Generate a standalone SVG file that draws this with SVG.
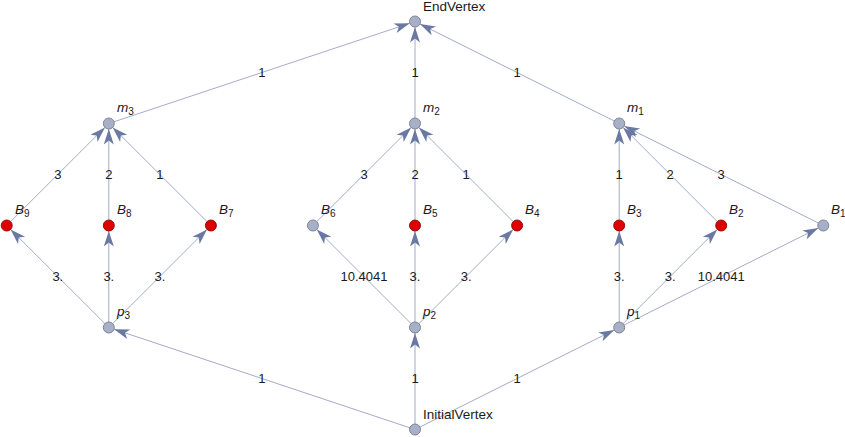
<svg xmlns="http://www.w3.org/2000/svg" width="845" height="437" viewBox="0 0 845 437">
  <style>
    .edge { stroke: #a3abc8; stroke-width: 1; fill: none; marker-end: url(#arrow); }
    .elabel { font-family: "Liberation Sans", Arial, sans-serif; font-size: 13px; fill: #1a1a1a; text-anchor: middle; }
    .vlabel { font-family: "Liberation Sans", Arial, sans-serif; font-size: 13.5px; fill: #1a1a1a; }
    .it { font-style: italic; }
    .sub { font-size: 10px; }
    .gray { fill: #a7b0c6; stroke: #7d8597; stroke-width: 1; }
    .red { fill: #dd0000; stroke: #9c0c0c; stroke-width: 1; }
  </style>
  <defs>
    <marker id="arrow" markerUnits="userSpaceOnUse" viewBox="-17 -6 18 12" markerWidth="18" markerHeight="12" refX="0" refY="0" orient="auto">
      <path d="M0,0 L-15.5,-5 L-11.5,0 L-15.5,5 Z" fill="#6a79a2"/>
    </marker>
  </defs>

  <!-- connectors -->
  <g id="edges">
    <!-- InitialVertex to p nodes -->
    <line class="edge" x1="415" y1="429.5" x2="114.02" y2="329.24"/>
    <line class="edge" x1="415" y1="429.5" x2="415" y2="333"/>
    <line class="edge" x1="415" y1="429.5" x2="614.28" y2="329.96"/>
    <!-- p3 -->
    <line class="edge" x1="108.8" y1="327.5" x2="10.59" y2="229.39"/>
    <line class="edge" x1="108.8" y1="327.5" x2="108.8" y2="231"/>
    <line class="edge" x1="108.8" y1="327.5" x2="207.01" y2="229.39"/>
    <!-- p2 -->
    <line class="edge" x1="415" y1="327.5" x2="316.79" y2="229.39"/>
    <line class="edge" x1="415" y1="327.5" x2="415" y2="231"/>
    <line class="edge" x1="415" y1="327.5" x2="513.21" y2="229.39"/>
    <!-- p1 -->
    <line class="edge" x1="619.2" y1="327.5" x2="619.2" y2="231"/>
    <line class="edge" x1="619.2" y1="327.5" x2="717.31" y2="229.39"/>
    <line class="edge" x1="619.2" y1="327.5" x2="818.38" y2="227.96"/>
    <!-- B to m3 -->
    <line class="edge" x1="6.7" y1="225.5" x2="104.91" y2="127.39"/>
    <line class="edge" x1="108.8" y1="225.5" x2="108.8" y2="129"/>
    <line class="edge" x1="210.9" y1="225.5" x2="112.69" y2="127.39"/>
    <!-- B to m2 -->
    <line class="edge" x1="312.9" y1="225.5" x2="411.11" y2="127.39"/>
    <line class="edge" x1="415" y1="225.5" x2="415" y2="129"/>
    <line class="edge" x1="517.1" y1="225.5" x2="418.89" y2="127.39"/>
    <!-- B to m1 -->
    <line class="edge" x1="619.2" y1="225.5" x2="619.2" y2="129"/>
    <line class="edge" x1="721.2" y1="225.5" x2="623.09" y2="127.39"/>
    <line class="edge" x1="823.3" y1="225.5" x2="624.12" y2="125.96"/>
    <!-- m nodes to EndVertex -->
    <line class="edge" x1="108.8" y1="123.5" x2="409.78" y2="23.24"/>
    <line class="edge" x1="415" y1="123.5" x2="415" y2="27"/>
    <line class="edge" x1="619.2" y1="123.5" x2="419.92" y2="23.96"/>

    <!-- edge weights -->
    <text class="elabel" x="261.9" y="383">1</text>
    <text class="elabel" x="415" y="383">1</text>
    <text class="elabel" x="517.1" y="383">1</text>
    <text class="elabel" x="57.8" y="281">3.</text>
    <text class="elabel" x="108.8" y="281">3.</text>
    <text class="elabel" x="159.9" y="281">3.</text>
    <text class="elabel" x="364" y="281">10.4041</text>
    <text class="elabel" x="415" y="281">3.</text>
    <text class="elabel" x="466.1" y="281">3.</text>
    <text class="elabel" x="619.2" y="281">3.</text>
    <text class="elabel" x="670.2" y="281">3.</text>
    <text class="elabel" x="721.2" y="281">10.4041</text>
    <text class="elabel" x="57.8" y="179">3</text>
    <text class="elabel" x="108.8" y="179">2</text>
    <text class="elabel" x="159.9" y="179">1</text>
    <text class="elabel" x="364" y="179">3</text>
    <text class="elabel" x="415" y="179">2</text>
    <text class="elabel" x="466.1" y="179">1</text>
    <text class="elabel" x="619.2" y="179">1</text>
    <text class="elabel" x="670.2" y="179">2</text>
    <text class="elabel" x="721.2" y="179">3</text>
    <text class="elabel" x="261.9" y="77">1</text>
    <text class="elabel" x="415" y="77">1</text>
    <text class="elabel" x="517.1" y="77">1</text>
  </g>

  <!-- vertices -->
  <g id="EndVertex">
    <circle class="gray" cx="415" cy="21.5" r="5.5"/>
    <text class="vlabel" x="423" y="11">EndVertex</text>
  </g>
  <g id="m3">
    <circle class="gray" cx="108.8" cy="123.5" r="5.5"/>
    <text class="vlabel" x="117" y="112"><tspan class="it">m</tspan><tspan class="sub" dy="3">3</tspan></text>
  </g>
  <g id="m2">
    <circle class="gray" cx="415" cy="123.5" r="5.5"/>
    <text class="vlabel" x="423" y="112"><tspan class="it">m</tspan><tspan class="sub" dy="3">2</tspan></text>
  </g>
  <g id="m1">
    <circle class="gray" cx="619.2" cy="123.5" r="5.5"/>
    <text class="vlabel" x="627" y="112"><tspan class="it">m</tspan><tspan class="sub" dy="3">1</tspan></text>
  </g>
  <g id="B9">
    <circle class="red" cx="6.7" cy="225.5" r="5.5"/>
    <text class="vlabel" x="15" y="214"><tspan class="it">B</tspan><tspan class="sub" dy="3">9</tspan></text>
  </g>
  <g id="B8">
    <circle class="red" cx="108.8" cy="225.5" r="5.5"/>
    <text class="vlabel" x="117" y="214"><tspan class="it">B</tspan><tspan class="sub" dy="3">8</tspan></text>
  </g>
  <g id="B7">
    <circle class="red" cx="210.9" cy="225.5" r="5.5"/>
    <text class="vlabel" x="219" y="214"><tspan class="it">B</tspan><tspan class="sub" dy="3">7</tspan></text>
  </g>
  <g id="B6">
    <circle class="gray" cx="312.9" cy="225.5" r="5.5"/>
    <text class="vlabel" x="321" y="214"><tspan class="it">B</tspan><tspan class="sub" dy="3">6</tspan></text>
  </g>
  <g id="B5">
    <circle class="red" cx="415" cy="225.5" r="5.5"/>
    <text class="vlabel" x="423" y="214"><tspan class="it">B</tspan><tspan class="sub" dy="3">5</tspan></text>
  </g>
  <g id="B4">
    <circle class="red" cx="517.1" cy="225.5" r="5.5"/>
    <text class="vlabel" x="525" y="214"><tspan class="it">B</tspan><tspan class="sub" dy="3">4</tspan></text>
  </g>
  <g id="B3">
    <circle class="red" cx="619.2" cy="225.5" r="5.5"/>
    <text class="vlabel" x="627" y="214"><tspan class="it">B</tspan><tspan class="sub" dy="3">3</tspan></text>
  </g>
  <g id="B2">
    <circle class="red" cx="721.2" cy="225.5" r="5.5"/>
    <text class="vlabel" x="729" y="214"><tspan class="it">B</tspan><tspan class="sub" dy="3">2</tspan></text>
  </g>
  <g id="B1">
    <circle class="gray" cx="823.3" cy="225.5" r="5.5"/>
    <text class="vlabel" x="831" y="214"><tspan class="it">B</tspan><tspan class="sub" dy="3">1</tspan></text>
  </g>
  <g id="p3">
    <circle class="gray" cx="108.8" cy="327.5" r="5.5"/>
    <text class="vlabel" x="117" y="316"><tspan class="it">p</tspan><tspan class="sub" dy="3">3</tspan></text>
  </g>
  <g id="p2">
    <circle class="gray" cx="415" cy="327.5" r="5.5"/>
    <text class="vlabel" x="423" y="316"><tspan class="it">p</tspan><tspan class="sub" dy="3">2</tspan></text>
  </g>
  <g id="p1">
    <circle class="gray" cx="619.2" cy="327.5" r="5.5"/>
    <text class="vlabel" x="627" y="316"><tspan class="it">p</tspan><tspan class="sub" dy="3">1</tspan></text>
  </g>
  <g id="InitialVertex">
    <circle class="gray" cx="415" cy="429.5" r="5.5"/>
    <text class="vlabel" x="423" y="419">InitialVertex</text>
  </g>
</svg>
